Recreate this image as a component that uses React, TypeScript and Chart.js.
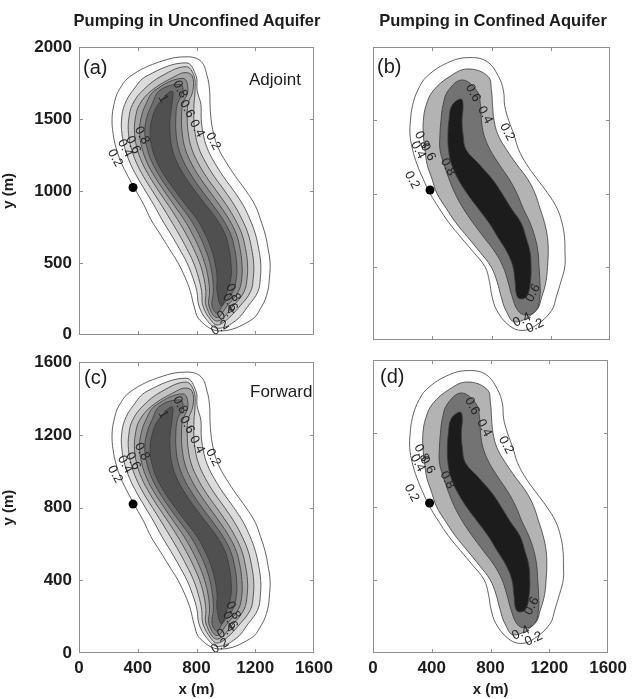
import React, { useEffect, useRef } from 'react';
import { Chart, registerables } from 'chart.js';

Chart.register(...registerables);

const FONT = '"Liberation Sans", Arial, Helvetica, sans-serif';
const TEXT = '#1c1c1c';

// ---------- axes ----------
const xMin = 0;
const xMax = 1600;
const xStep = 400;
const adjointYMax = 2000;
const adjointYStep = 500;
const forwardYMax = 1600;
const forwardYStep = 400;
// The Forward panels show the same plume, plotted on a 0–1600 m y axis.
const forwardYRatio = forwardYMax / adjointYMax;

// ---------- unconfined aquifer contours (x in m at each height y in m) ----------
const uncOuterY = [1932, 1900, 1800, 1700, 1600, 1500, 1400, 1300, 1200, 1100, 1000, 900, 800, 700, 600, 500, 400, 300, 200, 100, 27];
const uncOuterL = [735, 558, 354, 272, 238, 225, 232, 252, 286, 334, 388, 443, 490, 552, 613, 674, 722, 759, 783, 824, 960];
const uncOuterR = [735, 831, 872, 889, 892, 899, 916, 947, 1001, 1066, 1137, 1199, 1236, 1267, 1287, 1301, 1297, 1284, 1246, 1168, 960];

const unc1Y = [1890, 1800, 1700, 1600, 1500, 1400, 1300, 1200, 1100, 1000, 900, 800, 700, 600, 500, 400, 300, 200, 100, 45];
const unc1L = [729, 463, 368, 311, 290, 292, 311, 345, 394, 452, 511, 565, 625, 682, 735, 774, 803, 817, 872, 947];
const unc1R = [729, 797, 804, 830, 832, 845, 872, 921, 983, 1054, 1118, 1165, 1201, 1223, 1237, 1235, 1218, 1151, 1069, 947];

const unc2Y = [1863, 1800, 1700, 1600, 1500, 1400, 1300, 1200, 1100, 1000, 900, 800, 700, 600, 500, 400, 300, 200, 100, 68];
const unc2L = [729, 565, 436, 364, 339, 337, 355, 389, 439, 500, 562, 622, 680, 733, 780, 813, 835, 844, 899, 940];
const unc2R = [729, 783, 790, 783, 782, 791, 815, 861, 921, 992, 1058, 1111, 1152, 1175, 1189, 1187, 1168, 1096, 1001, 940];

const unc3Y = [1822, 1800, 1700, 1600, 1500, 1400, 1300, 1200, 1100, 1000, 900, 800, 700, 600, 500, 400, 300, 200, 95];
const unc3L = [722, 661, 497, 412, 383, 378, 394, 428, 480, 542, 609, 672, 729, 779, 821, 849, 864, 865, 940];
const unc3R = [722, 770, 776, 742, 737, 744, 765, 808, 866, 936, 1005, 1064, 1109, 1133, 1147, 1145, 1124, 1049, 940];

const unc4Y = [1782, 1700, 1600, 1500, 1400, 1300, 1200, 1100, 1000, 900, 800, 700, 600, 500, 400, 300, 200, 120];
const unc4L = [708, 518, 454, 421, 413, 428, 462, 515, 580, 648, 716, 772, 819, 855, 879, 889, 885, 940];
const unc4R = [708, 742, 706, 698, 703, 721, 761, 818, 887, 958, 1023, 1071, 1096, 1109, 1109, 1085, 1008, 940];

const unc5Y = [1741, 1700, 1600, 1500, 1400, 1300, 1200, 1100, 1000, 900, 800, 700, 600, 500, 400, 300, 200, 150];
const unc5L = [688, 552, 496, 459, 448, 463, 497, 550, 616, 688, 760, 815, 859, 891, 909, 915, 906, 940];
const unc5R = [688, 708, 669, 659, 661, 677, 714, 770, 838, 912, 981, 1032, 1059, 1073, 1072, 1047, 974, 940];

const unc6Y = [1693, 1600, 1500, 1400, 1300, 1200, 1100, 1000, 900, 800, 700, 600, 500, 400, 300, 200];
const unc6L = [633, 538, 497, 484, 497, 531, 586, 654, 729, 804, 858, 899, 926, 940, 940, 970];
const unc6R = [633, 633, 620, 620, 633, 667, 722, 790, 865, 940, 994, 1021, 1035, 1035, 1008, 970];

const uncFills = ['#ffffff', '#dcdcdc', '#c2c2c2', '#a7a7a7', '#8b8b8b', '#6e6e6e', '#505050'];

// ---------- confined aquifer contours ----------
const conOuterY = [1928, 1900, 1800, 1700, 1600, 1500, 1400, 1300, 1200, 1100, 1000, 900, 800, 700, 600, 500, 400, 300, 200, 100, 65];
const conOuterL = [655, 520, 365, 300, 267, 253, 250, 267, 297, 338, 385, 446, 513, 594, 678, 756, 786, 803, 837, 918, 1006];
const conOuterR = [655, 770, 847, 881, 889, 916, 952, 983, 1036, 1107, 1181, 1242, 1276, 1293, 1296, 1295, 1269, 1239, 1205, 1100, 1006];

const con1Y = [1850, 1800, 1700, 1600, 1500, 1400, 1300, 1200, 1100, 1000, 900, 800, 700, 600, 500, 400, 300, 200, 123];
const con1L = [641, 520, 405, 358, 340, 340, 351, 365, 398, 432, 493, 560, 641, 722, 797, 837, 864, 898, 959];
const con1R = [641, 776, 800, 807, 817, 844, 901, 969, 1043, 1094, 1127, 1158, 1178, 1183, 1178, 1168, 1141, 1100, 959];

const con2Y = [1775, 1700, 1600, 1500, 1400, 1300, 1200, 1100, 1000, 900, 800, 700, 600, 500, 400, 300, 200, 171];
const con2L = [601, 506, 472, 459, 452, 452, 479, 513, 554, 608, 675, 749, 824, 878, 911, 938, 979, 1033];
const con2R = [601, 702, 726, 732, 749, 790, 851, 918, 972, 1013, 1060, 1094, 1114, 1121, 1127, 1127, 1100, 1033];

const con3Y = [1645, 1600, 1500, 1400, 1300, 1200, 1100, 1000, 900, 800, 700, 600, 500, 400, 300, 280];
const con3L = [594, 533, 513, 506, 510, 530, 574, 635, 709, 783, 844, 905, 945, 959, 972, 999];
const con3R = [594, 608, 601, 608, 628, 716, 803, 871, 932, 999, 1033, 1060, 1067, 1063, 1040, 999];

const conFills = ['#ffffff', '#b3b3b3', '#737373', '#1c1c1c'];

// ---------- pumping well ----------
const wellXUnconfined = 368;
const wellXConfined = 385;
const wellYAdjoint = 1024;

// ---------- contour labels ----------
const uncLabelText = ['0.2', '0.4', '0.6', '0.8', '1', '0.2', '0.4', '0.6', '0.8', '0.8', '0.6', '0.4', '0.2'];
const uncLabelX = [913, 803, 735, 688, 572, 245, 313, 368, 429, 1049, 1028, 1001, 960];
const uncLabelY = [1345, 1433, 1570, 1706, 1640, 1229, 1297, 1320, 1386, 293, 225, 150, 48];
const uncLabelAngle = [62, 62, 62, 62, 62, 62, 62, 62, 62, 62, 62, -30, -30];

const conLabelText = ['0.6', '0.4', '0.2', '0.8', '0.4', '0.6', '0.8', '0.2', '0.6', '0.4', '0.2'];
const conLabelX = [675, 756, 905, 330, 304, 371, 506, 263, 1080, 1006, 1093];
const conLabelY = [1686, 1536, 1420, 1365, 1297, 1283, 1181, 1092, 321, 137, 96];
const conLabelAngle = [62, 62, 62, 62, 62, 62, 62, 62, -62, -25, -25];

// ---------- builders ----------
function contourDataset(ys: number[], xl: number[], xr: number[], fill: string, order: number, yRatio: number) {
  const pts: { x: number; y: number }[] = [];
  for (let i = 0; i < ys.length; i++) pts.push({ x: xl[i], y: ys[i] * yRatio });
  for (let i = ys.length - 2; i >= 1; i--) pts.push({ x: xr[i], y: ys[i] * yRatio });
  return {
    data: pts,
    showLine: true,
    closed: true,
    fill: 'shape',
    backgroundColor: fill,
    borderColor: '#3a3a3a',
    borderWidth: 0.8,
    pointRadius: 0,
    pointHoverRadius: 0,
    tension: 0.4,
    order,
  };
}

function wellDataset(x: number, y: number) {
  return {
    data: [{ x, y }],
    showLine: false,
    pointRadius: 4.5,
    pointBackgroundColor: '#000',
    pointBorderColor: '#000',
    pointBorderWidth: 0,
    order: -1,
  };
}

function unconfinedDatasets(yRatio: number) {
  const levels = [
    [uncOuterY, uncOuterL, uncOuterR],
    [unc1Y, unc1L, unc1R],
    [unc2Y, unc2L, unc2R],
    [unc3Y, unc3L, unc3R],
    [unc4Y, unc4L, unc4R],
    [unc5Y, unc5L, unc5R],
    [unc6Y, unc6L, unc6R],
  ];
  const ds: any[] = levels.map((lv, i) => contourDataset(lv[0], lv[1], lv[2], uncFills[i], levels.length - i, yRatio));
  ds.push(wellDataset(wellXUnconfined, wellYAdjoint * yRatio));
  return ds;
}

function confinedDatasets(yRatio: number) {
  const levels = [
    [conOuterY, conOuterL, conOuterR],
    [con1Y, con1L, con1R],
    [con2Y, con2L, con2R],
    [con3Y, con3L, con3R],
  ];
  const ds: any[] = levels.map((lv, i) => contourDataset(lv[0], lv[1], lv[2], conFills[i], levels.length - i, yRatio));
  ds.push(wellDataset(wellXConfined, wellYAdjoint * yRatio));
  return ds;
}

function labelItems(text: string[], xs: number[], ys: number[], ang: number[], yRatio: number) {
  return text.map((t, i) => ({ text: t, x: xs[i], y: ys[i] * yRatio, angle: ang[i] }));
}

// ---------- plugins ----------
const closedContourPlugin = {
  id: 'closedContours',
  afterDatasetUpdate(chart: any, args: any) {
    const ds = chart.data.datasets[args.index];
    const line = args.meta && args.meta.dataset;
    if (ds && ds.closed && line) {
      line._loop = true;
      line._fullLoop = true;
      line._segments = undefined;
      line._pointsUpdated = false;
    }
  },
};

const contourLabelPlugin = {
  id: 'contourLabels',
  afterDatasetsDraw(chart: any, _args: any, opts: any) {
    const { ctx, chartArea } = chart;
    const xs = chart.scales.x;
    const ys = chart.scales.y;
    ctx.save();
    ctx.beginPath();
    ctx.rect(chartArea.left, chartArea.top, chartArea.right - chartArea.left, chartArea.bottom - chartArea.top);
    ctx.clip();
    ctx.font = `13px ${FONT}`;
    ctx.fillStyle = '#262626';
    ctx.textAlign = 'center';
    ctx.textBaseline = 'middle';
    for (const it of opts.items || []) {
      ctx.save();
      ctx.translate(xs.getPixelForValue(it.x), ys.getPixelForValue(it.y));
      ctx.rotate((it.angle * Math.PI) / 180);
      ctx.fillText(it.text, 0, 0);
      ctx.restore();
    }
    ctx.restore();
  },
};

const framePlugin = {
  id: 'panelFrame',
  afterDraw(chart: any) {
    const { ctx, chartArea } = chart;
    const left = Math.round(chartArea.left);
    const right = Math.round(chartArea.right);
    const top = Math.round(chartArea.top);
    const bottom = Math.round(chartArea.bottom);
    const xs = chart.scales.x;
    const ys = chart.scales.y;
    ctx.save();
    ctx.strokeStyle = '#8e8e8e';
    ctx.lineWidth = 1;
    ctx.beginPath();
    for (const t of xs.ticks) {
      if (t.value <= xs.min || t.value >= xs.max) continue;
      const p = Math.round(xs.getPixelForValue(t.value)) + 0.5;
      ctx.moveTo(p, bottom);
      ctx.lineTo(p, bottom - 4);
      ctx.moveTo(p, top);
      ctx.lineTo(p, top + 4);
    }
    for (const t of ys.ticks) {
      if (t.value <= ys.min || t.value >= ys.max) continue;
      const p = Math.round(ys.getPixelForValue(t.value)) + 0.5;
      ctx.moveTo(left, p);
      ctx.lineTo(left + 4, p);
      ctx.moveTo(right, p);
      ctx.lineTo(right - 4, p);
    }
    ctx.stroke();
    ctx.strokeRect(left + 0.5, top + 0.5, right - left - 1, bottom - top - 1);
    ctx.restore();
  },
};

// ---------- panel ----------
type PanelProps = {
  left: number;
  top: number;
  width: number;
  height: number;
  padding: { top: number; right: number; bottom: number; left: number };
  datasets: any[];
  labels: any[];
  yMax: number;
  yStep: number;
  showX: boolean;
  showY: boolean;
};

function Panel(p: PanelProps) {
  const ref = useRef<HTMLCanvasElement>(null);
  useEffect(() => {
    const tickFont = { family: FONT, size: 17, weight: 'bold' as const };
    const titleFont = { family: FONT, size: 15, weight: 'bold' as const };
    const chart = new Chart(ref.current as HTMLCanvasElement, {
      type: 'scatter',
      data: { datasets: p.datasets },
      options: {
        animation: false,
        responsive: false,
        maintainAspectRatio: false,
        devicePixelRatio: 1,
        events: [],
        layout: { padding: p.padding },
        plugins: {
          legend: { display: false },
          tooltip: { enabled: false },
          contourLabels: { items: p.labels },
        } as any,
        scales: {
          x: {
            type: 'linear',
            min: xMin,
            max: xMax,
            ticks: {
              display: p.showX,
              stepSize: xStep,
              autoSkip: false,
              maxRotation: 0,
              padding: 5,
              color: TEXT,
              font: tickFont,
              callback: (v: any) => String(v),
            },
            grid: { display: false, drawTicks: false },
            border: { display: false },
            title: {
              display: p.showX,
              text: 'x (m)',
              color: TEXT,
              font: titleFont,
              padding: { top: 0, bottom: 0 },
            },
            afterFit: (s: any) => {
              s.height = p.showX ? 46 : 0;
            },
          },
          y: {
            type: 'linear',
            min: 0,
            max: p.yMax,
            ticks: {
              display: p.showY,
              stepSize: p.yStep,
              autoSkip: false,
              padding: 7,
              color: TEXT,
              font: tickFont,
              callback: (v: any) => String(v),
            },
            grid: { display: false, drawTicks: false },
            border: { display: false },
            title: {
              display: p.showY,
              text: 'y (m)',
              color: TEXT,
              font: titleFont,
              padding: { top: 0, bottom: 0 },
            },
            afterFit: (s: any) => {
              s.width = p.showY ? 79 : 0;
            },
          },
        } as any,
      },
      plugins: [closedContourPlugin, contourLabelPlugin, framePlugin] as any,
    });
    return () => chart.destroy();
  }, []);
  return (
    <canvas
      ref={ref}
      width={p.width}
      height={p.height}
      style={{ position: 'absolute', left: p.left, top: p.top, width: p.width, height: p.height }}
    />
  );
}

const textBase: React.CSSProperties = {
  position: 'absolute',
  fontFamily: FONT,
  color: TEXT,
  lineHeight: 1,
  whiteSpace: 'nowrap',
};

export default function App() {
  const uncTopLabels = labelItems(uncLabelText, uncLabelX, uncLabelY, uncLabelAngle, 1);
  const conTopLabels = labelItems(conLabelText, conLabelX, conLabelY, conLabelAngle, 1);
  const uncBotLabels = labelItems(uncLabelText, uncLabelX, uncLabelY, uncLabelAngle, forwardYRatio);
  const conBotLabels = labelItems(conLabelText, conLabelX, conLabelY, conLabelAngle, forwardYRatio);
  return (
    <div style={{ position: 'absolute', left: 0, top: 0, width: 632, height: 699, background: '#fff', overflow: 'hidden' }}>
      <Panel
        left={0}
        top={0}
        width={345}
        height={352}
        padding={{ top: 47, right: 31, bottom: 12, left: 0 }}
        datasets={unconfinedDatasets(1)}
        labels={uncTopLabels}
        yMax={adjointYMax}
        yStep={adjointYStep}
        showX={false}
        showY={true}
      />
      <Panel
        left={330}
        top={0}
        width={302}
        height={352}
        padding={{ top: 47, right: 22, bottom: 12, left: 43 }}
        datasets={confinedDatasets(1)}
        labels={conTopLabels}
        yMax={adjointYMax}
        yStep={adjointYStep}
        showX={false}
        showY={false}
      />
      <Panel
        left={0}
        top={345}
        width={345}
        height={354}
        padding={{ top: 15, right: 31, bottom: 0, left: 0 }}
        datasets={unconfinedDatasets(forwardYRatio)}
        labels={uncBotLabels}
        yMax={forwardYMax}
        yStep={forwardYStep}
        showX={true}
        showY={true}
      />
      <Panel
        left={330}
        top={345}
        width={302}
        height={354}
        padding={{ top: 15, right: 22, bottom: 0, left: 43 }}
        datasets={confinedDatasets(forwardYRatio)}
        labels={conBotLabels}
        yMax={forwardYMax}
        yStep={forwardYStep}
        showX={true}
        showY={false}
      />
      <div style={{ ...textBase, left: 197, top: 12, transform: 'translateX(-50%)', fontSize: 16.5, fontWeight: 'bold' }}>
        Pumping in Unconfined Aquifer
      </div>
      <div style={{ ...textBase, left: 493, top: 12, transform: 'translateX(-50%)', fontSize: 16.5, fontWeight: 'bold' }}>
        Pumping in Confined Aquifer
      </div>
      <div style={{ ...textBase, left: 83, top: 57, fontSize: 20 }}>(a)</div>
      <div style={{ ...textBase, left: 249, top: 71, fontSize: 17 }}>Adjoint</div>
      <div style={{ ...textBase, left: 377, top: 56, fontSize: 20 }}>(b)</div>
      <div style={{ ...textBase, left: 84, top: 367, fontSize: 20 }}>(c)</div>
      <div style={{ ...textBase, left: 250, top: 383, fontSize: 17 }}>Forward</div>
      <div style={{ ...textBase, left: 380, top: 366, fontSize: 20 }}>(d)</div>
    </div>
  );
}
